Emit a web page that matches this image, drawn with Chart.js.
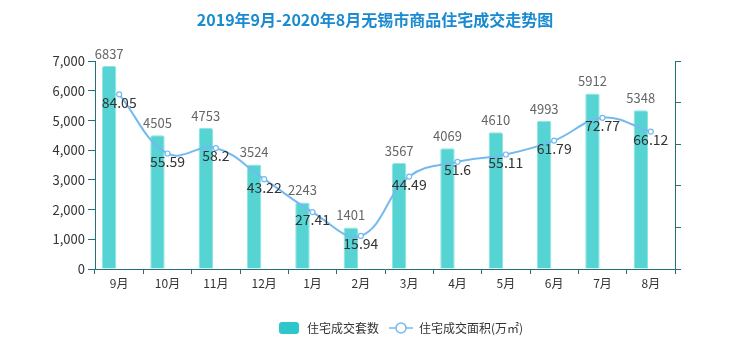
<!DOCTYPE html>
<html>
<head>
<meta charset="utf-8">
<script src="https://cdn.jsdelivr.net/npm/chart.js@4/dist/chart.umd.min.js"></script>
<style>
  html, body { margin: 0; padding: 0; background: #fff; }
  #wrap { width: 750px; height: 350px; }
</style>
</head>
<body>
<div id="wrap"><canvas id="canvas1" width="750" height="350"></canvas></div>
<script>
/* data */
const months = ['9月','10月','11月','12月','1月','2月','3月','4月','5月','6月','7月','8月']
const unitsSold = [6837,4505,4753,3524,2243,1401,3567,4069,4610,4993,5912,5348]
const areaSold = [84.05,55.59,58.2,43.22,27.41,15.94,44.49,51.6,55.11,61.79,72.77,66.12]
const leftTicks = [0,1000,2000,3000,4000,5000,6000,7000]

const font = '"Noto Sans CJK SC", "Noto Sans", sans-serif'
const axisColor = '#21707a'
const barColor = '#56d4d4'
const lineColor = '#74baf0'

/* little legend icons */
function barIcon() {
    let c = document.createElement('canvas')
    c.width = 20; c.height = 12
    let g = c.getContext('2d')
    g.fillStyle = '#2ec7c9'
    g.beginPath()
    g.roundRect(0, 0, 20, 12, 3)
    g.fill()
    return c
}
function lineIcon() {
    let c = document.createElement('canvas')
    c.width = 24; c.height = 12
    let g = c.getContext('2d')
    g.strokeStyle = lineColor
    g.lineWidth = 1.5
    g.beginPath(); g.moveTo(0, 6); g.lineTo(24, 6); g.stroke()
    g.fillStyle = '#fff'
    g.beginPath(); g.arc(12, 6, 5, 0, Math.PI * 2); g.fill(); g.stroke()
    return c
}

/* value labels on bars and points */
const valueLabels = {
    id: 'valueLabels',
    afterLayout(chart) {
        // legend in the original sits a little right of centre
        chart.legend.left += 25
        chart.legend.right += 25
    },
    afterDatasetsDraw(chart) {
        let ctx = chart.ctx
        ctx.save()
        ctx.textAlign = 'center'
        ctx.textBaseline = 'middle'
        chart.getDatasetMeta(0).data.forEach((bar, i) => {
            ctx.font = '13px ' + font
            ctx.fillStyle = '#666'
            ctx.fillText(unitsSold[i], bar.x, bar.y - 12)
        })
        chart.getDatasetMeta(2).data.forEach((pt, i) => {
            ctx.font = '14px ' + font
            ctx.fillStyle = '#333'
            ctx.fillText(areaSold[i], pt.x, pt.y + 8)
        })
        ctx.restore()
    }
}

let ctx1 = document.getElementById('canvas1').getContext('2d')
new Chart(ctx1, {
    data: {
        labels: months,
        datasets: [{
            type: 'bar',
            label: '住宅成交套数',
            data: unitsSold,
            backgroundColor: barColor,
            borderColor: '#8fe3e3',
            borderWidth: 1,
            borderRadius: 2,
            categoryPercentage: 0.83,
            barPercentage: 0.72,
            yAxisID: 'y',
            order: 2
        }, {
            // empty slot so the bars sit left of the category centre
            type: 'bar',
            label: '',
            data: months.map(() => null),
            categoryPercentage: 0.83,
            barPercentage: 0.72,
            yAxisID: 'y',
            order: 3
        }, {
            type: 'line',
            label: '住宅成交面积(万㎡)',
            data: areaSold,
            borderColor: lineColor,
            borderWidth: 2,
            tension: 0.4,
            pointRadius: 2.5,
            pointBackgroundColor: '#fff',
            pointBorderColor: lineColor,
            pointBorderWidth: 1.2,
            yAxisID: 'y1',
            order: 1
        }]
    },
    options: {
        responsive: false,
        animation: false,
        layout: { padding: { left: 0, right: 0, top: 0, bottom: 6 } },
        scales: {
            x: {
                grid: { display: true, drawOnChartArea: false, color: axisColor, tickLength: 5 },
                border: { color: axisColor, width: 1 },
                ticks: { color: '#333', font: { family: font, size: 12 }, padding: 2 },
                afterFit: s => { s.height = 43 }
            },
            y: {
                position: 'left',
                min: 0, max: 7000,
                afterBuildTicks: s => { s.ticks = leftTicks.map(v => ({ value: v })) },
                grid: { drawOnChartArea: false, color: axisColor, tickLength: 7 },
                border: { color: axisColor, width: 1 },
                ticks: { color: '#333', font: { family: font, size: 13 }, padding: 3,
                    callback: v => v.toLocaleString('en-US') },
                afterFit: s => { s.width = 95 }
            },
            y1: {
                position: 'right',
                min: 0, max: 100,
                ticks: { stepSize: 20, callback: () => '' },
                grid: { drawOnChartArea: false, color: axisColor, tickLength: 6 },
                border: { color: axisColor, width: 1 },
                afterFit: s => { s.width = 75 }
            }
        },
        plugins: {
            title: {
                display: true,
                text: '2019年9月-2020年8月无锡市商品住宅成交走势图',
                color: '#1a8bd0',
                font: { family: font, size: 16, weight: 'bold' },
                padding: { top: 10, bottom: 32 }
            },
            legend: {
                position: 'bottom',
                labels: {
                    usePointStyle: true,
                    pointStyleWidth: 24,
                    boxHeight: 12,
                    color: '#333',
                    font: { family: font, size: 12 },
                    padding: 10,
                    generateLabels: chart => [
                        { text: '住宅成交套数', pointStyle: barIcon(), datasetIndex: 0, fontColor: '#333', lineWidth: 0 },
                        { text: '住宅成交面积(万㎡)', pointStyle: lineIcon(), datasetIndex: 2, fontColor: '#333', lineWidth: 0 }
                    ]
                }
            },
            tooltip: { enabled: false }
        }
    },
    plugins: [valueLabels]
})
</script>
</body>
</html>
